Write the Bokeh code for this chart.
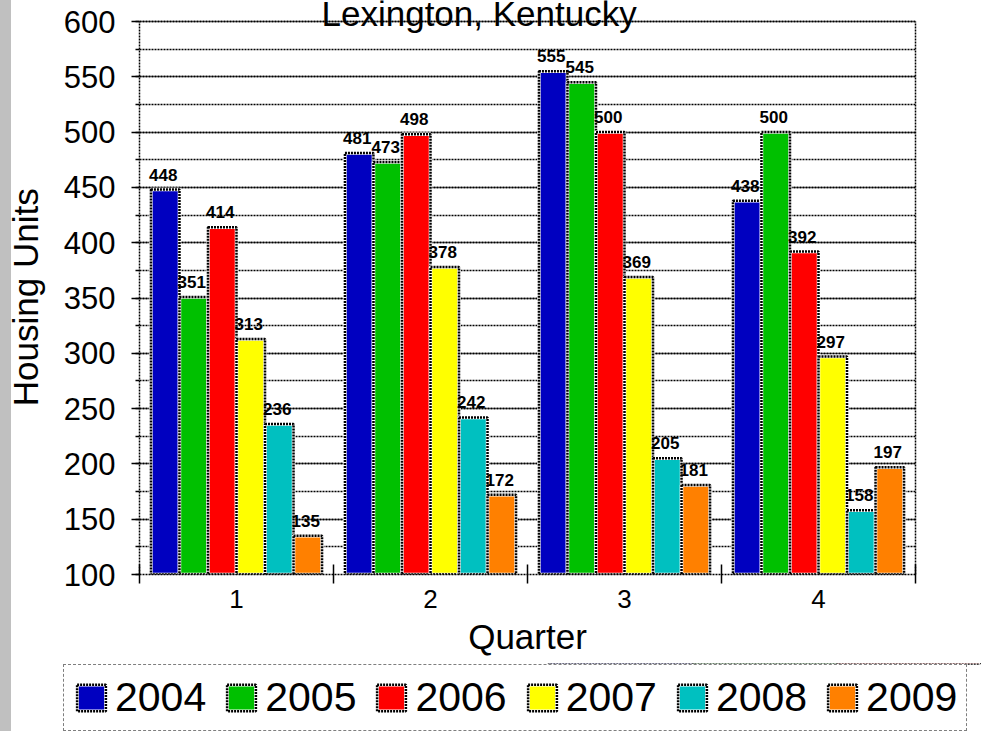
from bokeh.plotting import figure
from bokeh.layouts import column
from bokeh.models import (Range1d, FixedTicker, SingleIntervalTicker, ColumnDataSource,
                          LabelSet, Label, Legend, LegendItem, LinearAxis)
from bokeh.core.properties import value
from bokeh.embed import file_html
from bokeh.resources import INLINE

# Housing units by quarter, one series per year
quarters = [1, 2, 3, 4]
years = ["2004", "2005", "2006", "2007", "2008", "2009"]
units_2004 = [448, 481, 555, 438]
units_2005 = [351, 473, 545, 500]
units_2006 = [414, 498, 500, 392]
units_2007 = [313, 378, 369, 297]
units_2008 = [236, 242, 205, 158]
units_2009 = [135, 172, 181, 197]
series = [units_2004, units_2005, units_2006, units_2007, units_2008, units_2009]
colors = ["#0000C0", "#00C000", "#FF0000", "#FFFF00", "#00C0C0", "#FF8000"]

y_min, y_max = 100, 600
y_ticks_interval = 50
FONT = "Liberation Sans"

# the frame runs up to the top of the canvas; the value axis itself stops at 600
plot_px = 553        # pixels between 100 and 600
head_px = 21         # room above the 600 line, where the title sits
y_top = y_max + head_px * (y_max - y_min) / plot_px

p = figure(width=981, height=663, output_backend="svg", toolbar_location=None,
           x_range=Range1d(0.5, 4.5), y_range=Range1d(y_min, y_top),
           min_border_left=139, min_border_right=66,
           min_border_top=0, min_border_bottom=89)
p.frame_align = False
p.background_fill_color = "white"
p.border_fill_alpha = 0
p.outline_line_color = None

# grid: dotted lines at every 25 units
p.xgrid.grid_line_color = None
p.ygrid.ticker = SingleIntervalTicker(interval=y_ticks_interval, num_minor_ticks=2)
p.ygrid.grid_line_color = "black"
p.ygrid.grid_line_dash = "2 1"
p.ygrid.grid_line_width = 1.5
p.ygrid.minor_grid_line_color = "black"
p.ygrid.minor_grid_line_dash = "2 1"
p.ygrid.minor_grid_line_width = 1.5

# y axis (the two trailing no-break spaces keep the label centred on 100..600)
ya = p.yaxis[0]
ya.ticker = SingleIntervalTicker(interval=y_ticks_interval, num_minor_ticks=2)
ya.bounds = (y_min, y_max)
ya.axis_label = "Housing Units\u00a0\u00a0"
ya.axis_label_text_font = FONT
ya.axis_label_text_font_size = "35px"
ya.axis_label_text_font_style = "normal"
ya.axis_label_text_color = "black"
ya.axis_label_standoff = 16
ya.major_label_text_font = FONT
ya.major_label_text_font_size = "31px"
ya.major_label_text_color = "black"
ya.major_label_standoff = 16
ya.axis_line_color = "black"
ya.axis_line_dash = "2 1"
ya.axis_line_width = 1.5
ya.major_tick_line_color = "black"
ya.major_tick_line_width = 1.5
ya.major_tick_in = 0
ya.major_tick_out = 8
ya.minor_tick_line_color = "black"
ya.minor_tick_line_width = 1.5
ya.minor_tick_in = 0
ya.minor_tick_out = 4

# plain right-hand border of the plot area
ra = LinearAxis(bounds=(y_min, y_max), axis_line_color="black", axis_line_dash="2 1",
                axis_line_width=1.5, major_tick_line_color=None, minor_tick_line_color=None,
                major_label_text_color=None,
                ticker=SingleIntervalTicker(interval=y_ticks_interval))
p.add_layout(ra, "right")

# x axis: labels at quarter centres, ticks at the category boundaries
xa = p.xaxis[0]
xa.ticker = FixedTicker(ticks=quarters, minor_ticks=[q - 0.5 for q in quarters] + [quarters[-1] + 0.5])
xa.axis_label = "Quarter"
xa.axis_label_text_font = FONT
xa.axis_label_text_font_size = "35px"
xa.axis_label_text_font_style = "normal"
xa.axis_label_text_color = "black"
xa.axis_label_standoff = 6
xa.major_label_text_font = FONT
xa.major_label_text_font_size = "26px"
xa.major_label_text_color = "black"
xa.major_label_standoff = 6
xa.major_tick_line_color = None
xa.major_tick_out = 9
xa.axis_line_color = "black"
xa.axis_line_dash = "2 1"
xa.axis_line_width = 1.5
xa.minor_tick_line_color = "black"
xa.minor_tick_line_width = 1.5
xa.minor_tick_in = 10
xa.minor_tick_out = 9

# heading, running off the top edge
p.add_layout(Label(x=182, y=561, x_units="screen", y_units="screen",
                   text="Lexington, Kentucky", text_align="left",
                   text_baseline="alphabetic", text_font=FONT,
                   text_font_size="35px", text_color="black"))

bar_w = 0.147


def draw_bars(fig, k, vals, col):
    xs = [q + (k - 2.5) * bar_w for q in quarters]
    src = ColumnDataSource(dict(x=xs, top=vals, label=[str(v) for v in vals]))
    r1 = fig.vbar(x="x", top="top", bottom=y_min, width=bar_w, source=src,
                  fill_color=col, line_color="white", line_width=3.5)
    r2 = fig.vbar(x="x", top="top", bottom=y_min, width=bar_w, source=src,
                  fill_color=None, line_color="black", line_width=2.5, line_dash="2 1")
    return src, r1, r2


for k, (vals, col) in enumerate(zip(series, colors)):
    src, _, _ = draw_bars(p, k, vals, col)
    p.add_layout(LabelSet(x="x", y="top", text="label", source=src,
                          text_align="center", text_baseline="alphabetic",
                          y_offset=9, x_offset=-2,
                          text_font=value(FONT), text_font_size=value("17px"),
                          text_font_style="bold", text_color="black"))

# legend strip underneath the chart; its bars lie outside its own view
lg = figure(width=981, height=68, output_backend="svg", toolbar_location=None,
            x_range=Range1d(0, 1), y_range=Range1d(0, 1),
            x_axis_location=None, y_axis_location=None,
            min_border_left=0, min_border_right=0, min_border_top=0, min_border_bottom=0)
lg.frame_align = False
lg.grid.grid_line_color = None
lg.outline_line_color = None
lg.background_fill_alpha = 0
lg.border_fill_alpha = 0

items = []
for k, (year, vals, col) in enumerate(zip(years, series, colors)):
    _, r1, r2 = draw_bars(lg, k, vals, col)
    items.append(LegendItem(label=year, renderers=[r1, r2]))

legend = Legend(items=items, orientation="horizontal", location=(63, 0),
                glyph_width=36, glyph_height=33, label_standoff=6, spacing=17,
                padding=9, margin=0,
                label_text_font=FONT, label_text_font_size="41px",
                label_text_color="black",
                border_line_color="black", border_line_dash="2 1", border_line_width=1.5,
                background_fill_color="white", background_fill_alpha=1)
lg.add_layout(legend)

page = column(p, lg, spacing=0,
              styles={"background": "linear-gradient(90deg, #C0C0C0 0px, #C0C0C0 11px, #FFFFFF 11px, #FFFFFF 100%)"})

open("out.html", "w").write(file_html(page, INLINE))
